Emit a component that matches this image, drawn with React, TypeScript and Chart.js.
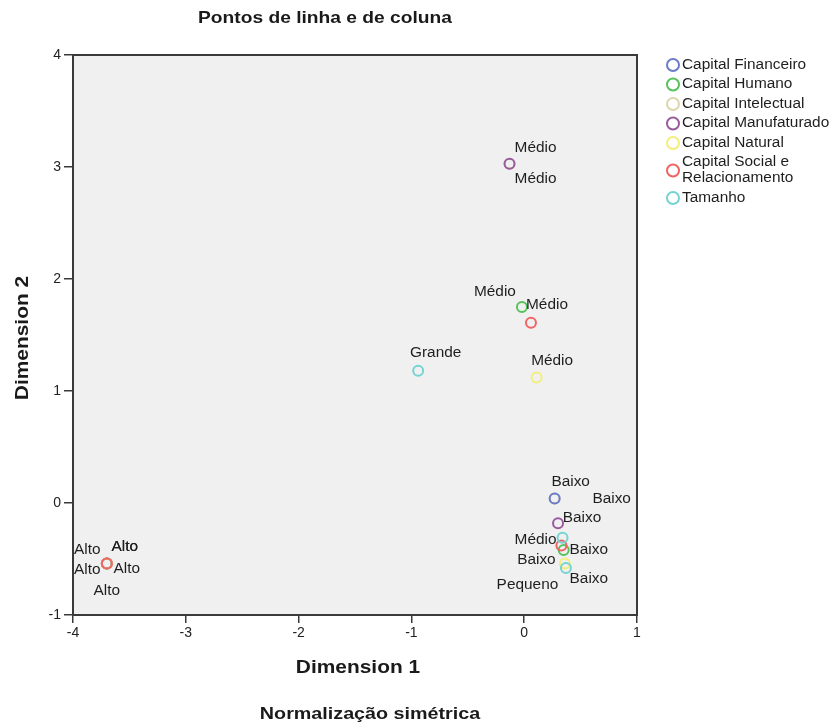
import React, { useEffect, useRef } from "react";
import { Chart, registerables } from "chart.js";

Chart.register(...registerables);

// ---------- data ----------
const chartTitle = "Pontos de linha e de coluna";
const xAxisTitle = "Dimension 1";
const yAxisTitle = "Dimension 2";
const footnote = "Normalização simétrica";

const xTickValues = [-4, -3, -2, -1, 0, 1];
const yTickValues = [-1, 0, 1, 2, 3, 4];

const seriesNames = [
  "Capital Financeiro",
  "Capital Humano",
  "Capital Intelectual",
  "Capital Manufaturado",
  "Capital Natural",
  "Capital Social e Relacionamento",
  "Tamanho",
];

const financeiroCategorias = ["Baixo", "Alto"];
const financeiroDim1 = [0.27, -3.7];
const financeiroDim2 = [0.04, -0.54];

const humanoCategorias = ["Alto", "Médio", "Baixo"];
const humanoDim1 = [-3.7, -0.02, 0.35];
const humanoDim2 = [-0.54, 1.75, -0.42];

const intelectualCategorias = ["Alto", "Médio", "Baixo"];
const intelectualDim1 = [-3.7, -0.13, 0.27];
const intelectualDim2 = [-0.54, 3.03, 0.04];

const manufaturadoCategorias = ["Alto", "Médio", "Baixo"];
const manufaturadoDim1 = [-3.7, -0.13, 0.3];
const manufaturadoDim2 = [-0.54, 3.03, -0.18];

const naturalCategorias = ["Alto", "Médio", "Baixo"];
const naturalDim1 = [-3.7, 0.11, 0.36];
const naturalDim2 = [-0.54, 1.12, -0.54];

const socialCategorias = ["Alto", "Médio", "Baixo"];
const socialDim1 = [-3.7, 0.06, 0.33];
const socialDim2 = [-0.54, 1.61, -0.38];

const tamanhoCategorias = ["Grande", "Médio", "Pequeno"];
const tamanhoDim1 = [-0.94, 0.34, 0.37];
const tamanhoDim2 = [1.18, -0.31, -0.58];

// ---------- styles / layout (kept apart from data) ----------
const FONT = '"Liberation Sans", Arial, Helvetica, sans-serif';
const TEXT_SX = 1.1;
const seriesColors = ["#6a7bc9", "#55c25a", "#ddd6ad", "#9a5a9e", "#f3ee7c", "#f06464", "#74d4d2"];
// drawing order: lower = drawn on top
const seriesOrder = [6, 5, 7, 4, 3, 2, 1];
// label offsets in pixels (text centre relative to the point)
const financeiroLabelOffsets = [[16, -16], [18, -16]];
const humanoLabelOffsets = [[18, -16], [-27, -15], [25, 0]];
const intelectualLabelOffsets = [[-19.5, -13], [26, 16], [57, 1]];
const manufaturadoLabelOffsets = [[-19.5, 7], [26, -15], [24, -5]];
const naturalLabelOffsets = [[20, 6], [15.5, -16], [24, 16]];
const socialLabelOffsets = [[0, 28], [16, -18], [-25, 15]];
const tamanhoLabelOffsets = [[17.5, -18], [-27, 2], [-38.5, 17]];

function drawText(
  ctx: CanvasRenderingContext2D,
  text: string,
  x: number,
  y: number,
  font: string,
  align: CanvasTextAlign = "center",
  sx: number = TEXT_SX,
  rotate: number = 0,
  color: string = "#222"
) {
  ctx.save();
  ctx.translate(x, y);
  if (rotate) ctx.rotate(rotate);
  ctx.scale(sx, 1);
  ctx.font = font;
  ctx.textAlign = align;
  ctx.textBaseline = "middle";
  ctx.fillStyle = color;
  ctx.fillText(text, 0, 0);
  ctx.restore();
}

export default function App() {
  const ref = useRef<HTMLCanvasElement>(null);

  useEffect(() => {
    const canvas = ref.current;
    if (!canvas) return;

    const series = [
      { cats: financeiroCategorias, d1: financeiroDim1, d2: financeiroDim2, off: financeiroLabelOffsets },
      { cats: humanoCategorias, d1: humanoDim1, d2: humanoDim2, off: humanoLabelOffsets },
      { cats: intelectualCategorias, d1: intelectualDim1, d2: intelectualDim2, off: intelectualLabelOffsets },
      { cats: manufaturadoCategorias, d1: manufaturadoDim1, d2: manufaturadoDim2, off: manufaturadoLabelOffsets },
      { cats: naturalCategorias, d1: naturalDim1, d2: naturalDim2, off: naturalLabelOffsets },
      { cats: socialCategorias, d1: socialDim1, d2: socialDim2, off: socialLabelOffsets },
      { cats: tamanhoCategorias, d1: tamanhoDim1, d2: tamanhoDim2, off: tamanhoLabelOffsets },
    ];

    const datasets = series.map((s, i) => ({
      label: seriesNames[i],
      data: s.d1.map((x, j) => ({ x, y: s.d2[j] })),
      borderColor: seriesColors[i],
      backgroundColor: "rgba(0,0,0,0)",
      pointBorderColor: seriesColors[i],
      pointBackgroundColor: "rgba(0,0,0,0)",
      pointRadius: 5,
      pointHoverRadius: 5,
      pointBorderWidth: 2,
      showLine: false,
      order: seriesOrder[i],
    }));

    const backgroundPlugin = {
      id: "plotBg",
      beforeDraw(chart: any) {
        const { ctx, chartArea: a } = chart;
        ctx.save();
        ctx.fillStyle = "#ffffff";
        ctx.fillRect(0, 0, chart.width, chart.height);
        ctx.fillStyle = "#f0f0f0";
        ctx.fillRect(a.left, a.top, a.right - a.left, a.bottom - a.top);
        ctx.restore();
      },
      afterDraw(chart: any) {
        const { ctx, chartArea: a } = chart;
        ctx.save();
        ctx.strokeStyle = "#3a3a3a";
        ctx.lineWidth = 2;
        ctx.strokeRect(a.left, a.top, a.right - a.left, a.bottom - a.top);
        ctx.restore();
      },
    };

    const labelsPlugin = {
      id: "pointLabels",
      afterDatasetsDraw(chart: any) {
        const ctx = chart.ctx;
        series.forEach((s, i) => {
          const meta = chart.getDatasetMeta(i);
          meta.data.forEach((pt: any, j: number) => {
            const [dx, dy] = s.off[j];
            drawText(ctx, s.cats[j], pt.x + dx, pt.y + dy, `14px ${FONT}`, "center", TEXT_SX, 0, "#1e1e1e");
          });
        });
      },
    };

    const titlesPlugin = {
      id: "titles",
      afterDraw(chart: any) {
        const ctx = chart.ctx;
        const a = chart.chartArea;
        drawText(ctx, chartTitle, 325, 18, `bold 17px ${FONT}`, "center", 1.13, 0, "#1a1a1a");
        drawText(ctx, xAxisTitle, (a.left + a.right) / 2 + 3, 668, `bold 19px ${FONT}`, "center", 1.1, 0, "#1a1a1a");
        drawText(ctx, yAxisTitle, 23, 338, `bold 19px ${FONT}`, "center", 1.1, -Math.PI / 2, "#1a1a1a");
        drawText(ctx, footnote, 370, 714, `bold 17px ${FONT}`, "center", 1.16, 0, "#1a1a1a");
      },
    };

    const legendPlugin = {
      id: "customLegend",
      afterDraw(chart: any) {
        const ctx = chart.ctx;
        const circleX = 673;
        const textX = 682;
        const itemH = 19.5;
        const lineH = 16;
        let y = 55.25;
        seriesNames.forEach((name, i) => {
          const lines = name === "Capital Social e Relacionamento" ? ["Capital Social e", "Relacionamento"] : [name];
          const h = itemH + lineH * (lines.length - 1);
          const cy = y + h / 2;
          ctx.save();
          ctx.beginPath();
          ctx.arc(circleX, cy, 6, 0, Math.PI * 2);
          ctx.strokeStyle = seriesColors[i];
          ctx.lineWidth = 2;
          ctx.stroke();
          ctx.restore();
          const firstY = cy - (lineH * (lines.length - 1)) / 2;
          lines.forEach((ln, k) => {
            drawText(ctx, ln, textX, firstY + k * lineH, `14px ${FONT}`, "left", TEXT_SX, 0, "#1e1e1e");
          });
          y += h;
        });
      },
    };

    const chart = new Chart(canvas, {
      type: "scatter",
      data: { datasets } as any,
      options: {
        responsive: false,
        animation: false,
        devicePixelRatio: 1,
        layout: { padding: { top: 55, right: 197, left: 0, bottom: 0 } },
        plugins: {
          legend: { display: false },
          title: { display: false },
          tooltip: { enabled: false },
        },
        events: [],
        scales: {
          x: {
            type: "linear",
            min: xTickValues[0],
            max: xTickValues[xTickValues.length - 1],
            afterBuildTicks: (scale: any) => {
              scale.ticks = xTickValues.map((v) => ({ value: v }));
            },
            afterFit: (scale: any) => {
              scale.height = 111;
            },
            ticks: {
              font: { family: FONT, size: 14 },
              color: "#222",
              padding: 2,
              maxRotation: 0,
              callback: (v: any) => String(v),
            },
            grid: {
              display: true,
              drawOnChartArea: false,
              drawTicks: true,
              tickLength: 8,
              color: "#3a3a3a",
              lineWidth: 1.5,
            },
            border: { display: true, color: "#3a3a3a", width: 2 },
          },
          y: {
            type: "linear",
            min: yTickValues[0],
            max: yTickValues[yTickValues.length - 1],
            afterBuildTicks: (scale: any) => {
              scale.ticks = yTickValues.map((v) => ({ value: v }));
            },
            afterFit: (scale: any) => {
              scale.width = 73;
            },
            ticks: {
              font: { family: FONT, size: 14 },
              color: "#222",
              padding: 3,
              callback: (v: any) => String(v),
            },
            grid: {
              display: true,
              drawOnChartArea: false,
              drawTicks: true,
              tickLength: 9,
              color: "#3a3a3a",
              lineWidth: 1.5,
            },
            border: { display: true, color: "#3a3a3a", width: 2 },
          },
        },
      } as any,
      plugins: [backgroundPlugin, labelsPlugin, titlesPlugin, legendPlugin],
    });

    return () => chart.destroy();
  }, []);

  return (
    <div style={{ position: "fixed", left: 0, top: 0, width: 834, height: 726, background: "#fff" }}>
      <canvas ref={ref} width={834} height={726} style={{ display: "block", width: 834, height: 726 }} />
    </div>
  );
}
